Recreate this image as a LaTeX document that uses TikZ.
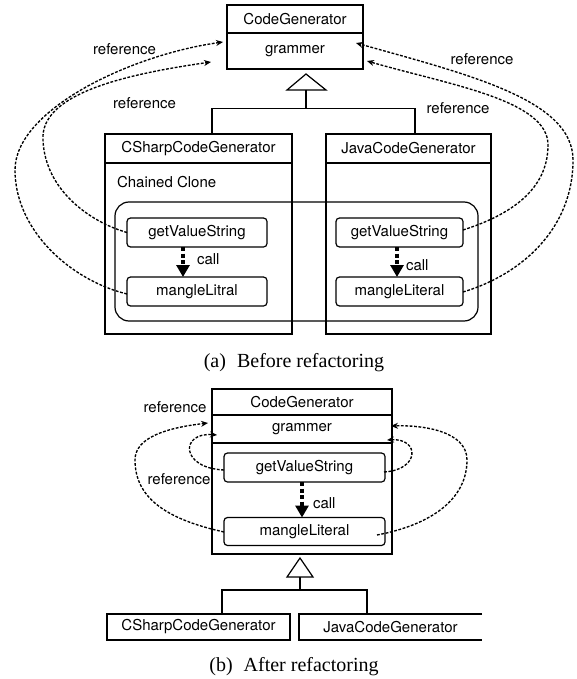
\documentclass[tikz,border=0pt]{standalone}
\usepackage{fontspec}
\setmainfont{Liberation Serif}
\newfontfamily\diagfont{TeX Gyre Heros}
\usetikzlibrary{arrows.meta}

\begin{document}
\begin{tikzpicture}[x=1pt,y=1pt,
  every node/.style={inner sep=0pt, outer sep=0pt},
  txt/.style={font=\diagfont\fontsize{15}{18}\selectfont},
  cls/.style={txt, draw, line width=1.2pt},
  meth/.style={txt, draw, line width=1.2pt, rounded corners=3.5pt},
  group/.style={draw, line width=1.2pt, rounded corners=14pt},
  line/.style={line width=1.2pt},
  ref/.style={line width=1.35pt, dash pattern=on 2.8pt off 1.6pt, -{Stealth[length=7pt,width=6pt]}},
  callarr/.style={line width=3.8pt, dash pattern=on 4pt off 2.5pt, -{Triangle[length=12pt,width=13pt]}},
  captxt/.style={font=\fontsize{20}{24}\selectfont},
]
\useasboundingbox (0,0) rectangle (576,-679);

% ---------- (a) two generators with a chained clone ----------
\node[cls, minimum width=136pt, minimum height=28pt] (cgT) at (295,-19) {CodeGenerator};
\node[cls, minimum width=136pt, minimum height=36pt, anchor=north] (cgA) at (cgT.south) {grammer};

\node[cls, minimum width=187pt, minimum height=29pt] (csT) at (198.5,-148.5) {CSharpCodeGenerator};
\node[cls, minimum width=187pt, minimum height=171pt, anchor=north] (csB) at (csT.south) {};
\node[cls, minimum width=165pt, minimum height=29pt] (jvT) at (408.5,-148.5) {JavaCodeGenerator};
\node[cls, minimum width=165pt, minimum height=171pt, anchor=north] (jvB) at (jvT.south) {};
\node[txt, anchor=west] (chain) at (117,-182) {Chained Clone};
\node[group, minimum width=363pt, minimum height=119pt] (grp) at (296.5,-261.5) {};

\node[meth, minimum width=140pt, minimum height=29pt] (gvL) at (197,-232.5) {getValueString};
\node[meth, minimum width=140pt, minimum height=29pt] (mlL) at (197,-291.5) {mangleLitral};
\node[meth, minimum width=127pt, minimum height=29pt] (gvR) at (399.5,-232.5) {getValueString};
\node[meth, minimum width=127pt, minimum height=29pt] (mlR) at (399.5,-291.5) {mangleLiteral};

% inheritance
\draw[line, fill=white] (306,-74) -- (326,-90) -- (287,-90) -- cycle;
\coordinate (triA) at (306,-90);
\draw[line] ([xshift=13.5pt]csT.north) -- ++(0,25.3) coordinate (busA) -| ([xshift=6.5pt]jvT.north);
\draw[line] (triA) -- (triA |- busA);

% calls
\draw[callarr] ([xshift=-14pt]gvL.south) -- ([xshift=-14pt]mlL.north)
  node[midway, right=14pt, yshift=3pt, txt] {call};
\draw[callarr] ([xshift=-2.5pt]gvR.south) -- ([xshift=-2.5pt]mlR.north)
  node[midway, right=9pt, yshift=-3pt, txt] {call};

% references
\node[txt] (refA1) at (124.5,-49) {reference};
\node[txt] (refA2) at (144.5,-103) {reference};
\node[txt] (refA3) at (482,-59) {reference};
\node[txt] (refA4) at (458,-108) {reference};

\draw[ref] ([yshift=-2.5pt]mlL.west) .. controls (70,-280) and (15,-230) .. (15,-170)
  .. controls (15,-110) and (130,-55) .. ([xshift=-4pt,yshift=9pt]cgA.west);
\draw[ref] (gvL.west) .. controls (90,-222) and (45,-190) .. (43,-140)
  .. controls (40,-95) and (120,-75) .. ([xshift=-16pt,yshift=-11pt]cgA.west);
\draw[ref] ([yshift=-0.5pt]mlR.east) .. controls (520,-275) and (573,-230) .. (573,-160)
  .. controls (573,-100) and (470,-75) .. ([xshift=-7pt,yshift=8pt]cgA.east);
\draw[ref] ([yshift=2.5pt]gvR.east) .. controls (510,-215) and (548,-190) .. (548,-145)
  .. controls (548,-100) and (450,-85) .. ([xshift=4pt,yshift=-10pt]cgA.east);

\node[captxt] (capA) at (294,-363) {(a)\hspace{0.55em}Before refactoring};

% ---------- (b) shared implementation in the base class ----------
\node[cls, minimum width=180pt, minimum height=26pt] (cgT2) at (302,-402) {CodeGenerator};
\node[cls, minimum width=180pt, minimum height=28pt, anchor=north] (cgA2) at (cgT2.south) {grammer};
\node[cls, minimum width=180pt, minimum height=111pt, anchor=north] (cgB2) at (cgA2.south) {};
\node[meth, minimum width=161pt, minimum height=29pt] (gv2) at (304.5,-467.5) {getValueString};
\node[meth, minimum width=161pt, minimum height=28pt] (ml2) at (304.5,-531.5) {mangleLiteral};

\draw[callarr] ([xshift=-2.5pt]gv2.south) -- ([xshift=-2.5pt]ml2.north)
  node[midway, right=11pt, yshift=-3pt, txt] {call};

\draw[line, fill=white] (300,-558) -- (313,-577) -- (287,-577) -- cycle;
\coordinate (triB) at (300,-577);
\node[cls, minimum width=183pt, minimum height=26pt] (cs2) at (198.5,-627) {CSharpCodeGenerator};
\node[txt, minimum width=183pt, minimum height=26pt] (jv2) at (390.5,-627) {JavaCodeGenerator};
\draw[line] (jv2.north east) -- (jv2.north west) -- (jv2.south west) -- (jv2.south east);
\draw[line] ([xshift=23.5pt]cs2.north) -- ++(0,24) coordinate (busB) -| ([xshift=-23.5pt]jv2.north);
\draw[line] (triB) -- (triB |- busB);

\node[txt] (refB1) at (175,-407) {reference};
\node[txt] (refB2) at (179,-479) {reference};

\draw[ref] ([yshift=-0.5pt]ml2.west) .. controls (170,-520) and (135,-500) .. (135,-460)
  .. controls (135,-438) and (165,-428) .. ([xshift=-4pt,yshift=6pt]cgA2.west);
\draw[ref] ([yshift=-2.5pt]gv2.west) .. controls (180,-468) and (180,-432) .. ([xshift=5pt,yshift=-6pt]cgA2.west);
\draw[ref] ([xshift=-1pt,yshift=-4.5pt]gv2.east) .. controls (420,-470) and (420,-438) .. ([xshift=-5pt,yshift=-11pt]cgA2.east);
\draw[ref] ([xshift=-8pt,yshift=-3.5pt]ml2.east) .. controls (430,-525) and (467,-500) .. (467,-460)
  .. controls (467,-430) and (420,-425) .. ([xshift=-1pt,yshift=3pt]cgA2.east);

\node[captxt] (capB) at (294,-667) {(b)\hspace{0.55em}After refactoring};
\end{tikzpicture}
\end{document}
